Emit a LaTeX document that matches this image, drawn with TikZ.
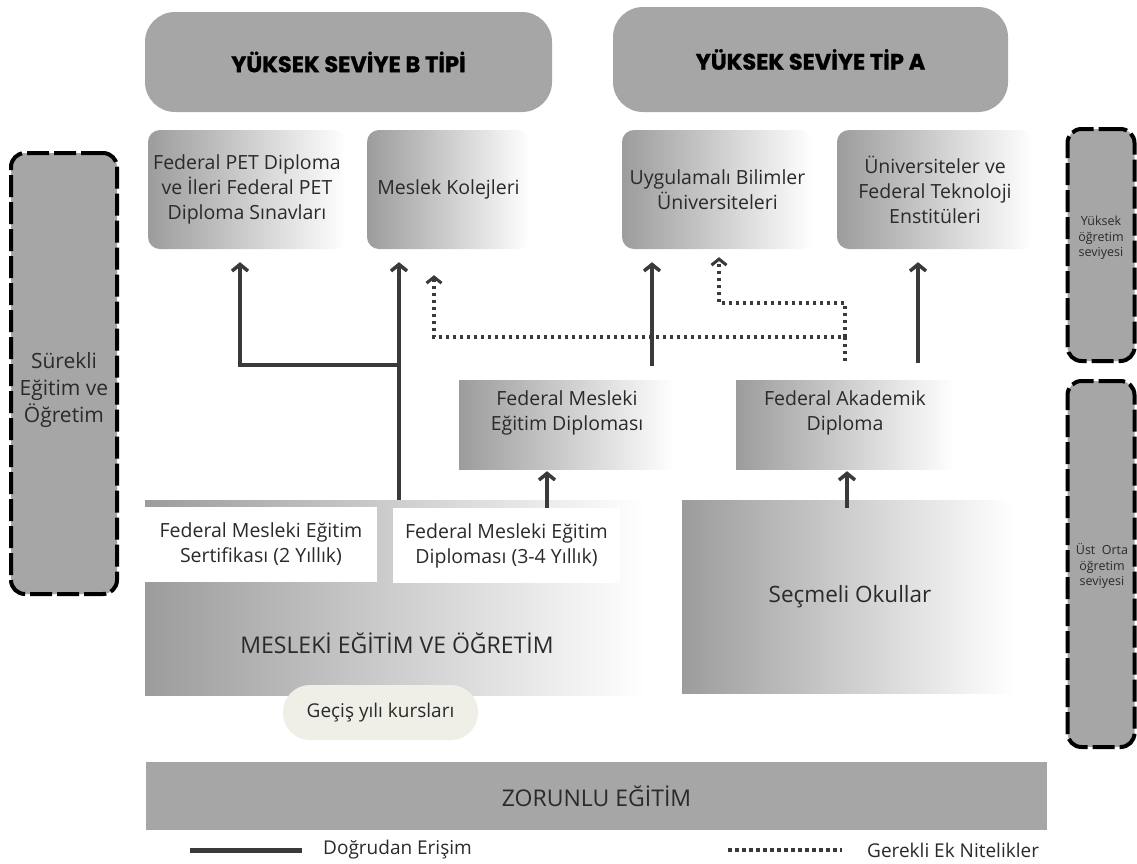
\documentclass[tikz,border=0pt]{standalone}
\usepackage{fontspec}
\setmainfont{Open Sans}
\newfontfamily\headfont{Poppins}[BoldFeatures={FakeBold=1.2}]
\usetikzlibrary{arrows.meta}
\definecolor{hdr}{HTML}{A6A6A6}
\definecolor{gL}{HTML}{9C9C9C}
\definecolor{ink}{HTML}{3A3A3A}
\definecolor{txt}{HTML}{2A2A2A}
\definecolor{pillc}{HTML}{EFEFE8}
\tikzset{
  hdrbox/.style={fill=hdr, rounded corners=30pt, inner sep=0pt, text=black,
    font=\headfont\bfseries\fontsize{22.5}{26}\selectfont},
  gradbox/.style={left color=gL, right color=white, rounded corners=12pt, inner sep=0pt,
    align=center, text=txt, font=\fontsize{19.5}{25}\selectfont},
  flatgrad/.style={left color=gL, right color=white, inner sep=0pt},
  dashbox/.style={fill=hdr, draw=black, line width=4pt, dash pattern=on 22pt off 5pt,
    rounded corners=14pt, inner sep=0pt},
  whitebox/.style={fill=white, inner sep=0pt, align=center, text=txt,
    font=\fontsize{19.5}{25}\selectfont},
  lbl/.style={align=center, text=txt, font=\fontsize{19.5}{25}\selectfont, inner sep=0pt},
  small/.style={align=center, text=txt, font=\fontsize{12.5}{15.5}\selectfont, inner sep=0pt},
  arr/.style={draw=ink, line width=4pt, -{Straight Barb[length=6.5pt,width=16pt,line width=3.5pt]}},
  dotarr/.style={draw=ink, line width=3.5pt, dash pattern=on 3.5pt off 3.5pt,
    -{Straight Barb[length=6pt,width=15pt,line width=3pt]}},
  legline/.style={draw=ink, line width=5pt},
  legdot/.style={draw=ink, line width=4pt, dash pattern=on 3.5pt off 3.5pt},
  legtxt/.style={anchor=west, text=txt, font=\fontsize{19}{22}\selectfont, inner sep=0pt}
}
\begin{document}
\begin{tikzpicture}[x=1pt,y=-1pt]
\path[use as bounding box, fill=white] (0,0) rectangle (1137,863);

% headers
\node[hdrbox, minimum width=407pt, minimum height=100pt] (hB) at (348.5,62) {YÜKSEK SEVİYE B TİPİ};
\node[hdrbox, minimum width=395pt, minimum height=105pt] (hA) at (810.5,59.5) {YÜKSEK SEVİYE TİP A};

% second row
\node[gradbox, minimum width=198pt, minimum height=119pt] (pet) at (247,189.5) {Federal PET Diploma\\ve İleri Federal PET\\Diploma Sınavları};
\node[gradbox, minimum width=163pt, minimum height=119pt] (kolej) at (448.5,189.5) {Meslek Kolejleri};
\node[gradbox, minimum width=191pt, minimum height=119pt] (uyg) at (717.5,189.5) {Uygulamalı Bilimler\\Üniversiteleri};
\node[gradbox, minimum width=196pt, minimum height=119pt] (uni) at (935,189.5) {Üniversiteler ve\\Federal Teknoloji\\Enstitüleri};

% side dashed boxes
\node[dashbox, minimum width=106pt, minimum height=441pt] (sure) at (64,373.5) {};
\node[lbl, font=\fontsize{21}{27}\selectfont] (sureT) at (64,390) {Sürekli\\Eğitim ve\\Öğretim};
\node[dashbox, minimum width=67pt, minimum height=232pt] (yuk) at (1101,245) {};
\node[small] (yukT) at (1101,238) {Yüksek\\öğretim\\seviyesi};
\node[dashbox, minimum width=67pt, minimum height=366pt] (ust) at (1101,564) {};
\node[small] (ustT) at (1102,566) {Üst\ \ Orta\\öğretim\\seviyesi};

% diplomas
\node[flatgrad, minimum width=216pt, minimum height=89pt] (fmed) at (567,424.5) {};
\node[lbl] (fmedT) at (567,413) {Federal Mesleki\\Eğitim Diploması};
\node[flatgrad, minimum width=219pt, minimum height=89pt] (fad) at (845.5,424.5) {};
\node[lbl] (fadT) at (845,413) {Federal Akademik\\Diploma};

% lower blocks
\node[flatgrad, minimum width=500pt, minimum height=195pt] (mesleki) at (395,597.5) {};
\node[lbl, font=\fontsize{23}{26}\selectfont] (meslekiT) at (397,643) {MESLEKİ EĞİTİM VE ÖĞRETİM};
\node[whitebox, minimum width=232pt, minimum height=75pt] (sert) at (261,544.5) {Federal Mesleki Eğitim\\Sertifikası (2 Yıllık)};
\node[whitebox, minimum width=227pt, minimum height=75pt] (dipl) at (506.5,545.5) {Federal Mesleki Eğitim\\Diploması (3-4 Yıllık)};
\node[flatgrad, minimum width=331pt, minimum height=193pt] (secmeli) at (847.5,596.5) {};
\node[lbl, font=\fontsize{22.5}{26}\selectfont] (secmeliT) at (850,597) {Seçmeli Okullar};
\node[fill=pillc, rounded corners=27pt, minimum width=195pt, minimum height=55pt, inner sep=0pt,
  text=txt, font=\fontsize{19}{22}\selectfont] (pill) at (380.5,712.5) {Geçiş yılı kursları};

% compulsory
\node[fill=hdr, minimum width=901pt, minimum height=68pt, inner sep=0pt, text=txt,
  font=\fontsize{23}{26}\selectfont] (zor) at (596.5,796) {ZORUNLU EĞİTİM};

% solid connectors
\coordinate (jA) at (399,365);
\coordinate (jB) at (240,365);
\draw[arr, shorten >=13pt] (mesleki.north -| jA) -- (kolej.south -| jA);
\draw[arr, shorten >=13pt] (jA) -- (jB) -- (pet.south -| jB);
\coordinate (u1) at (652,366);
\draw[arr, shorten >=13pt] (u1) -- (uyg.south -| u1);
\coordinate (u2) at (918,363);
\draw[arr, shorten >=13pt] (u2) -- (uni.south -| u2);
\coordinate (f1) at (547,508);
\draw[arr, shorten >=2pt] (f1) -- (fmed.south -| f1);
\coordinate (f2) at (847,508);
\draw[arr, shorten >=2pt] (f2) -- (fad.south -| f2);

% dotted connectors
\coordinate (dA) at (434,337);
\coordinate (dB) at (845,337);
\coordinate (dC) at (845,361);
\coordinate (dD) at (845,303);
\coordinate (dE) at (719,303);
\draw[dotarr, shorten >=26pt] (dC) -- (dB) -- (dA) -- (kolej.south -| dA);
\draw[dotarr, shorten >=8pt] (dB) -- (dD) -- (dE) -- (uyg.south -| dE);

% legend
\coordinate (l1) at (190,850);
\coordinate (l2) at (302,850);
\draw[legline] (l1) -- (l2);
\node[legtxt] (lt1) at (323,850) {Doğrudan Erişim};
\coordinate (l3) at (728,850);
\coordinate (l4) at (842,850);
\draw[legdot] (l3) -- (l4);
\node[legtxt] (lt2) at (867,850) {Gerekli Ek Nitelikler};
\end{tikzpicture}
\end{document}
